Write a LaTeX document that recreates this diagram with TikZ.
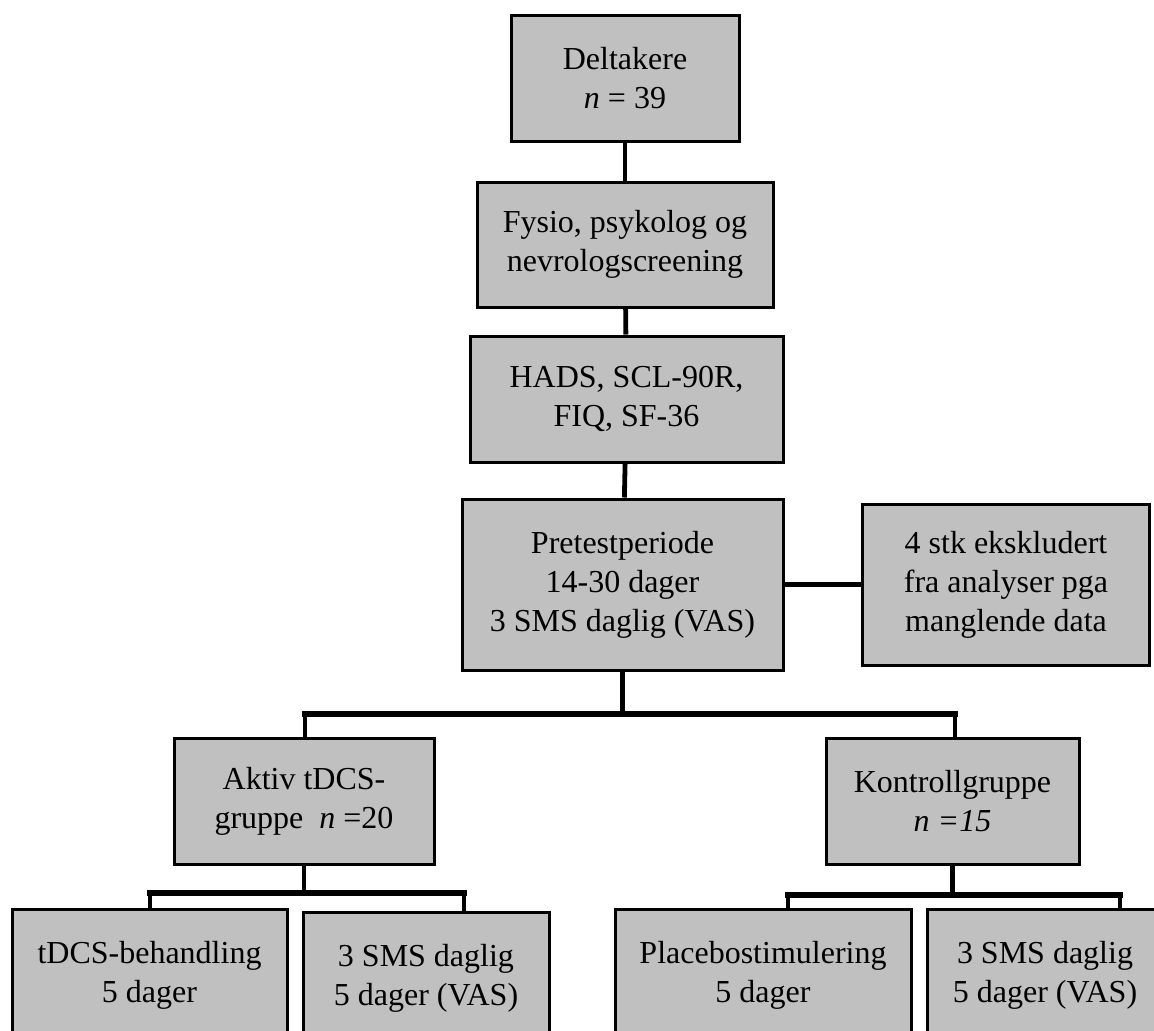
\documentclass[tikz,border=0pt]{standalone}
\usepackage{fontspec}
\setmainfont{Liberation Serif}
\usepackage{tikz}
\usetikzlibrary{positioning}
\definecolor{boksgrau}{RGB}{192,192,192}

\begin{document}
\begin{tikzpicture}[x=0.5pt,y=-0.5pt]
	\tikzstyle{boks}=[rectangle, draw=black, line width=1.5pt, fill=boksgrau, align=center, inner sep=0pt, font=\fontsize{16}{19.5}\selectfont]
	\tikzstyle{linje}=[line width=2.4pt]
	\tikzstyle{buss}=[line width=3pt, line cap=rect]
	
	\useasboundingbox (0,0) rectangle (1154,1030);
	\clip (0,0) rectangle (1154,1030);
	
	\node[boks, minimum width=114pt, minimum height=63pt]   (delt) at (625,78)    {Deltakere\\\textit{n} = 39};
	\node[boks, minimum width=148pt, minimum height=62.5pt] (fys)  at (625,244.5) {Fysio, psykolog og\\nevrologscreening};
	\node[boks, minimum width=156.5pt, minimum height=63pt] (hads) at (626.5,399) {HADS, SCL-90R,\\FIQ, SF-36};
	\node[boks, minimum width=160.5pt, minimum height=85.5pt] (pre) at (622.5,584.5) {Pretestperiode\\14-30 dager\\3 SMS daglig (VAS)};
	\node[boks, minimum width=143.5pt, minimum height=80.5pt] (eks) at (1006,584.5) {4 stk ekskludert\\fra analyser pga\\manglende data};
	
	\node[boks, minimum width=130pt, minimum height=63pt]   (akt)  at (304,801)   {Aktiv tDCS-\\gruppe~ \textit{n} =20};
	\node[boks, minimum width=126.5pt, minimum height=63pt] (kon)  at (952.5,801) {Kontrollgruppe\\\textit{n =15}};
	
	\node[boks, minimum width=137.5pt, minimum height=66pt] (tdcs) at (149.5,975) {tDCS-behandling\\5 dager};
	\node[boks, minimum width=123pt, minimum height=66pt]   (smsA) at (426,978)   {3 SMS daglig\\5 dager (VAS)};
	\node[boks, minimum width=148pt, minimum height=66pt]   (plc)  at (763,975)   {Placebostimulering\\5 dager};
	\node[boks, minimum width=118pt, minimum height=66pt]   (smsK) at (1045,975)  {3 SMS daglig\\5 dager (VAS)};
	
	% hovedlinje
	\draw[linje] (delt) -- (fys);
	\draw[linje] (fys) -- (hads);
	\draw[linje] (hads) -- (pre);
	\draw[linje] (pre) -- (eks);
	
	% fordeling i grupper
	\coordinate (bL) at (305,714);
	\coordinate (bR) at (955,714);
	\draw[linje] (pre.south) -- (pre.south |- bL);
	\draw[buss] (bL) -- (bR);
	\draw[linje] (bL) -- (bL |- akt.north);
	\draw[linje] (bR) -- (bR |- kon.north);
	
	% aktiv gruppe
	\coordinate (aL) at (150,893);
	\coordinate (aR) at (464,893);
	\draw[linje] (akt.south) -- (akt.south |- aL);
	\draw[buss] (aL) -- (aR);
	\draw[linje] (aL) -- (aL |- tdcs.north);
	\draw[linje] (aR) -- (aR |- smsA.north);
	
	% kontrollgruppe
	\coordinate (kL) at (788,895);
	\coordinate (kR) at (1120,895);
	\draw[linje] (kon.south) -- (kon.south |- kL);
	\draw[buss] (kL) -- (kR);
	\draw[linje] (kL) -- (kL |- plc.north);
	\draw[linje] (kR) -- (kR |- smsK.north);
	
\end{tikzpicture}
\end{document}
